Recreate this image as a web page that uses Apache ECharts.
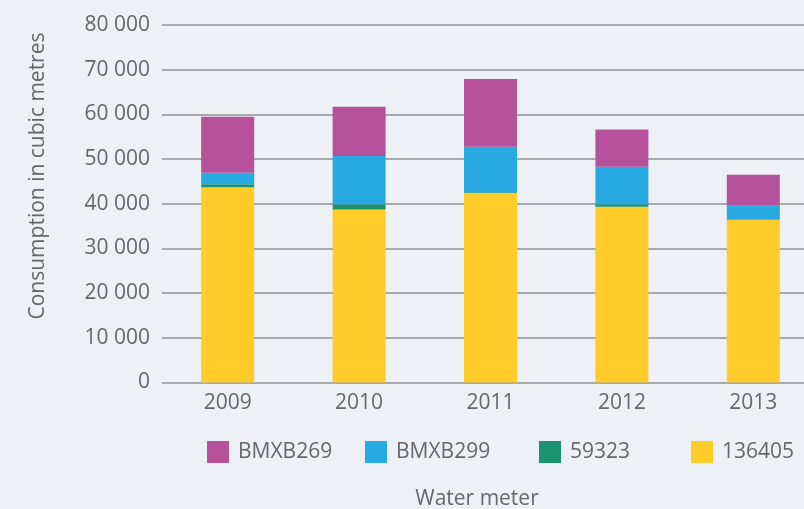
<!DOCTYPE html>
<html>
<head>
<meta charset="utf-8">
<script src="https://cdn.jsdelivr.net/npm/echarts@6/dist/echarts.min.js"></script>
<style>
html,body{margin:0;padding:0;background:#edf1f5;}
#main{width:804px;height:509px;}
</style>
</head>
<body>
<div id="main"></div>
<script>
// water consumption per meter, cubic metres
let years=['2009','2010','2011','2012','2013'];
let m136405=[43700,38700,42400,39300,36400];
let m59323=[650,1200,150,600,0];
let bmxb299=[2600,10750,10200,8350,3130];
let bmxb269=[12500,11050,15150,8370,6940];

let textColor='#66676a';
let font='Open Sans';

function fmt(v){
    return String(v).replace(/\B(?=(\d{3})+(?!\d))/g,' ');
}

function legendItem(name,left){
    return {
        data:[name],
        left:left,
        top:441,
        padding:0,
        itemWidth:22,
        itemHeight:22,
        icon:'rect',
        textStyle:{color:textColor,fontSize:21,fontFamily:font,padding:[0,0,0,4]}
    };
}

let option={
    backgroundColor:'#edf1f5',
    animation:false,
    title:{
        text:'Water meter',
        left:472,
        textAlign:'center',
        top:484,
        textStyle:{color:textColor,fontSize:21,fontWeight:'normal',fontFamily:font}
    },
    graphic:[{
        type:'text',
        x:38,
        y:176,
        rotation:Math.PI/2,
        style:{
            text:'Consumption in cubic metres',
            fill:textColor,
            font:'21px "Open Sans"',
            align:'center',
            verticalAlign:'middle'
        }
    }],
    legend:[
        legendItem('BMXB269',207),
        legendItem('BMXB299',365),
        legendItem('59323',539),
        legendItem('136405',691)
    ],
    grid:{left:162,top:25,width:657,height:357.4,outerBoundsMode:'none'},
    xAxis:{
        type:'category',
        data:years,
        axisLine:{show:false},
        axisTick:{show:false},
        axisLabel:{color:textColor,fontSize:21,fontFamily:font,margin:10}
    },
    yAxis:{
        type:'value',
        min:0,
        max:80000,
        interval:10000,
        axisLine:{show:false},
        axisTick:{show:false},
        axisLabel:{color:textColor,fontSize:21,fontFamily:font,margin:12,formatter:fmt},
        splitLine:{lineStyle:{color:'#a7a9ac',width:2}}
    },
    series:[
        {name:'136405',type:'bar',stack:'m',barWidth:53,data:m136405,itemStyle:{color:'#ffcc29'}},
        {name:'59323',type:'bar',stack:'m',barWidth:53,data:m59323,itemStyle:{color:'#1c9470'}},
        {name:'BMXB299',type:'bar',stack:'m',barWidth:53,data:bmxb299,itemStyle:{color:'#29a9e1'}},
        {name:'BMXB269',type:'bar',stack:'m',barWidth:53,data:bmxb269,itemStyle:{color:'#b5529b'}}
    ]
};

let myChart=echarts.init(document.getElementById('main'));
myChart.setOption(option);
</script>
</body>
</html>
